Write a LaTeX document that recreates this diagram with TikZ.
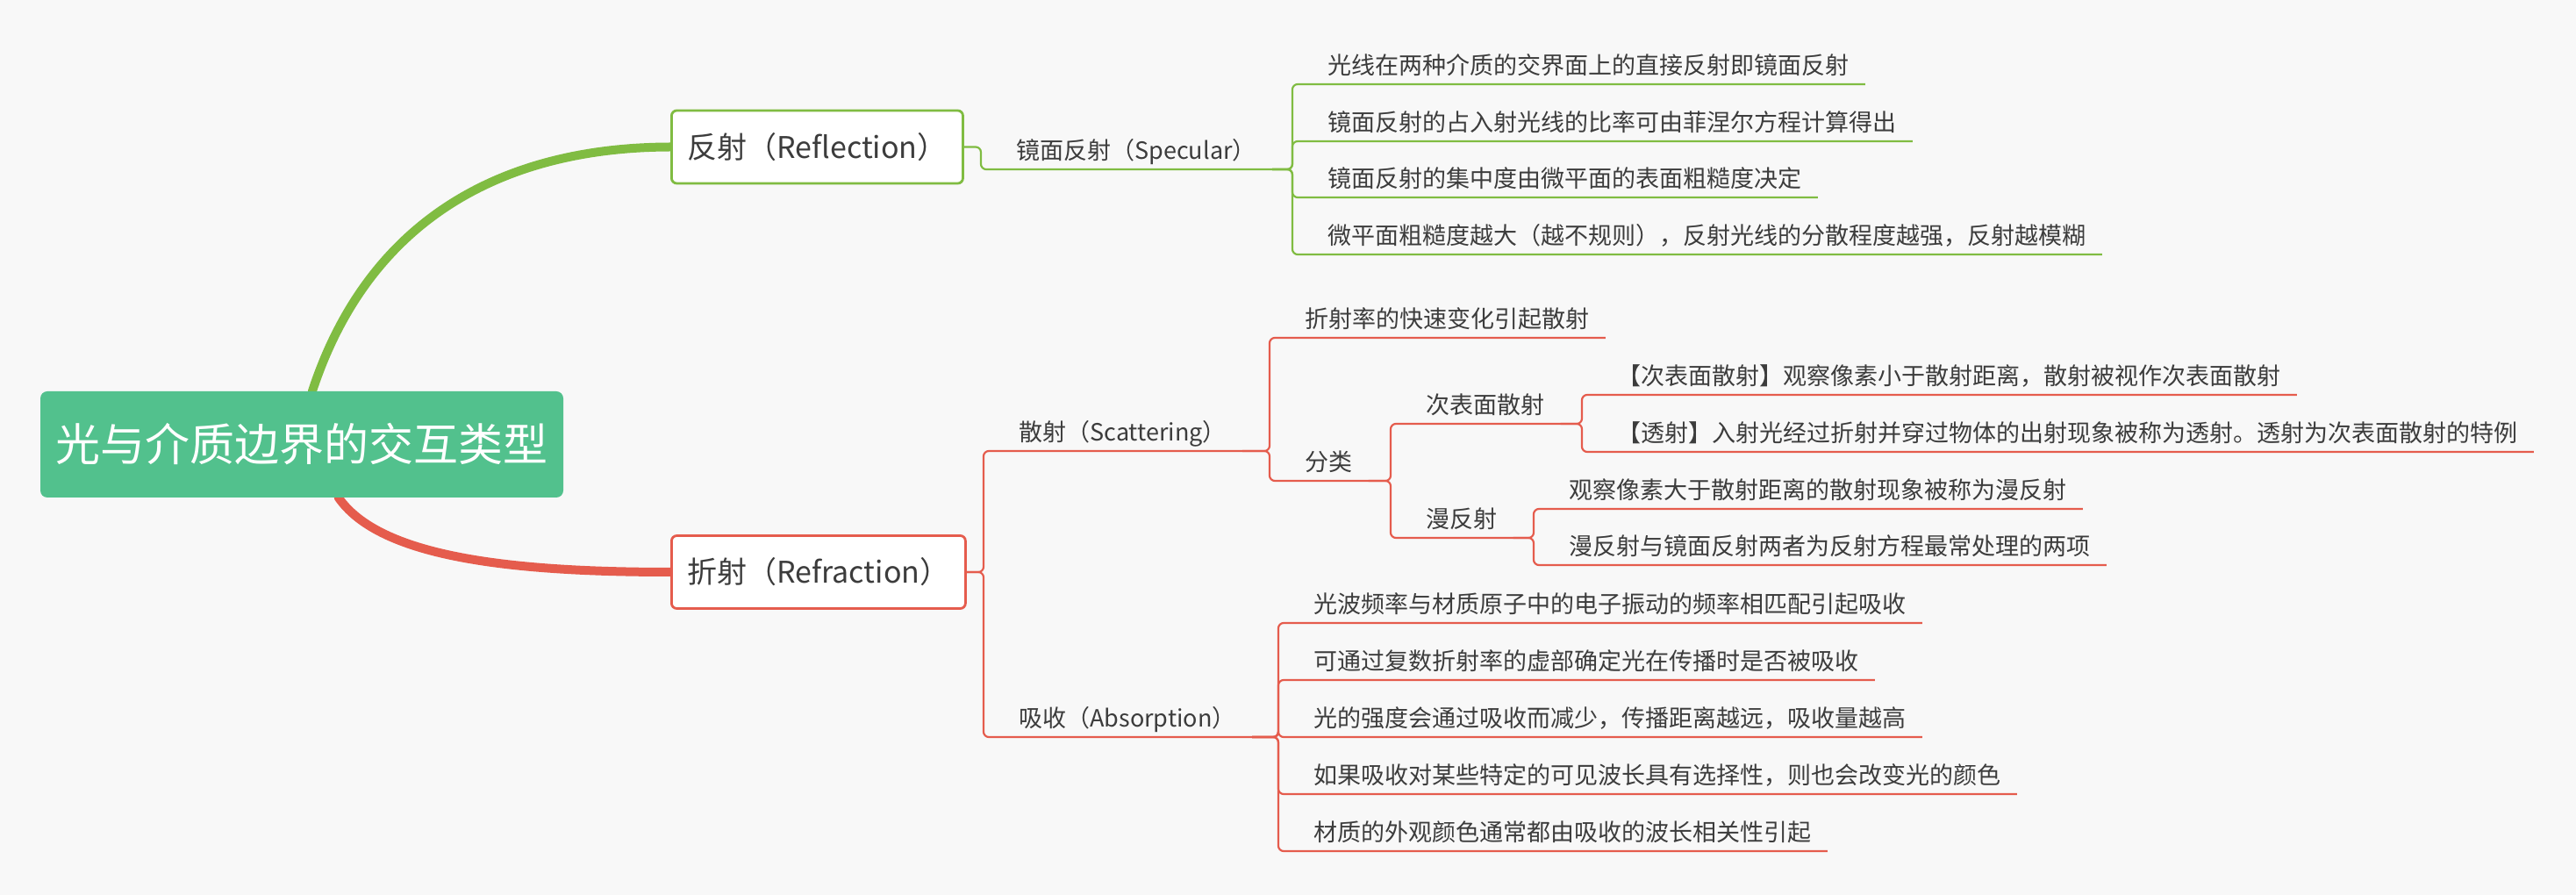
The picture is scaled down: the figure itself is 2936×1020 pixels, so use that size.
\documentclass[tikz,border=0pt]{standalone}
\usepackage{fontspec}
\setmainfont{Noto Sans CJK SC}
\usetikzlibrary{positioning,calc}
\definecolor{bgc}{RGB}{248,248,248}
\definecolor{rootc}{RGB}{82,193,141}
\definecolor{grn}{RGB}{128,188,66}
\definecolor{rd}{RGB}{229,92,77}
\definecolor{txt}{RGB}{60,60,60}
\pgfdeclarelayer{bg}
\pgfsetlayers{bg,main}
\tikzstyle{rootbox} = [rectangle, rounded corners=4pt, fill=rootc, text=white, minimum width=298pt, minimum height=60.5pt, font=\fontsize{25.5pt}{30pt}\selectfont]
\tikzstyle{topic} = [rectangle, rounded corners=3pt, fill=white, line width=1.4pt, text=txt, minimum width=162pt, minimum height=41.5pt, inner xsep=9pt, font=\fontsize{17pt}{20pt}\selectfont]
\tikzstyle{leaf} = [anchor=south west, inner xsep=9pt, inner ysep=5.5pt, text depth=0pt, text=txt, font=\fontsize{13.5pt}{16pt}\selectfont]
\tikzstyle{gline} = [grn, line width=1.1pt, rounded corners=3pt]
\tikzstyle{rline} = [rd, line width=1.1pt, rounded corners=3pt]
\tikzstyle{gcurve} = [grn, line width=5pt]
\tikzstyle{rcurve} = [rd, line width=5pt]

\begin{document}
\begin{tikzpicture}[x=0.5pt, y=-0.5pt]
    \begin{pgfonlayer}{bg}
        \fill[bgc] (0,0) rectangle (2936,1020);
    \end{pgfonlayer}

    \node[rootbox] (root) at (344,506.5) {光与介质边界的交互类型};
    \node[topic, draw=grn, anchor=west] (refl) at (764,167.5) {反射（Reflection）};
    \node[topic, draw=rd, anchor=west] (refr) at (764,652) {折射（Refraction）};

    \begin{pgfonlayer}{bg}
        \draw[gcurve] ([shift={(6pt,-4pt)}]root.north) -- ([xshift=6pt]root.north) .. controls (418,257) and (564,168) .. (refl.west);
        \draw[rcurve] ([shift={(20pt,4pt)}]root.south) -- ([xshift=21pt]root.south) .. controls (430,630) and (560,652) .. (refr.west);
    \end{pgfonlayer}

    % reflection
    \node[leaf] (spec) at (1140,193) {镜面反射（Specular）};
    \draw[gline] (refl.east) -| ([xshift=-11pt]spec.south west) -- (spec.south east);
    \foreach \n/\y/\lbl in {1/96/{光线在两种介质的交界面上的直接反射即镜面反射},
                            2/161/{镜面反射的占入射光线的比率可由菲涅尔方程计算得出},
                            3/225/{镜面反射的集中度由微平面的表面粗糙度决定},
                            4/290/{微平面粗糙度越大（越不规则），反射光线的分散程度越强，反射越模糊}} {
        \node[leaf] (s\n) at (1495,\y) {\lbl};
        \draw[gline] (spec.south east) -| ([xshift=-11pt]s\n.south west) -- (s\n.south east);
    }

    % refraction
    \node[leaf] (scat) at (1143,514) {散射（Scattering）};
    \node[leaf] (abso) at (1143,840) {吸收（Absorption）};
    \foreach \c in {scat,abso}
        \draw[rline] (refr.east) -| ([xshift=-11pt]\c.south west) -- (\c.south east);

    \node[leaf] (fast) at (1469,385) {折射率的快速变化引起散射};
    \node[leaf] (cls) at (1469,548) {分类};
    \foreach \c in {fast,cls}
        \draw[rline] (scat.south east) -| ([xshift=-11pt]\c.south west) -- (\c.south east);

    \node[leaf] (sub) at (1607,483) {次表面散射};
    \node[leaf] (diff) at (1607,613) {漫反射};
    \foreach \c in {sub,diff}
        \draw[rline] (cls.south east) -| ([xshift=-11pt]\c.south west) -- (\c.south east);

    \node[leaf] (sub1) at (1825,450) {【次表面散射】观察像素小于散射距离，散射被视作次表面散射};
    \node[leaf] (sub2) at (1825,515) {【透射】入射光经过折射并穿过物体的出射现象被称为透射。透射为次表面散射的特例};
    \foreach \c in {sub1,sub2}
        \draw[rline] (sub.south east) -| ([xshift=-11pt]\c.south west) -- (\c.south east);

    \node[leaf] (diff1) at (1770,580) {观察像素大于散射距离的散射现象被称为漫反射};
    \node[leaf] (diff2) at (1770,644) {漫反射与镜面反射两者为反射方程最常处理的两项};
    \foreach \c in {diff1,diff2}
        \draw[rline] (diff.south east) -| ([xshift=-11pt]\c.south west) -- (\c.south east);

    \foreach \n/\y/\lbl in {1/710/{光波频率与材质原子中的电子振动的频率相匹配引起吸收},
                            2/775/{可通过复数折射率的虚部确定光在传播时是否被吸收},
                            3/840/{光的强度会通过吸收而减少，传播距离越远，吸收量越高},
                            4/905/{如果吸收对某些特定的可见波长具有选择性，则也会改变光的颜色},
                            5/970/{材质的外观颜色通常都由吸收的波长相关性引起}} {
        \node[leaf] (a\n) at (1479,\y) {\lbl};
        \draw[rline] (abso.south east) -| ([xshift=-11pt]a\n.south west) -- (a\n.south east);
    }
\end{tikzpicture}
\end{document}
